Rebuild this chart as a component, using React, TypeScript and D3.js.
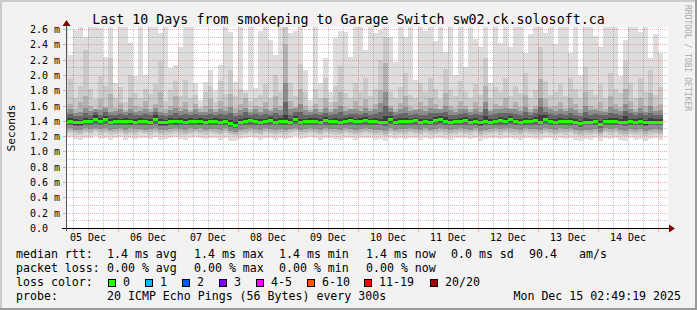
import React from "react";
import * as d3 from "d3";

// ---------- text ----------
const TITLE = "Last 10 Days from smokeping to Garage Switch sw02.ck.solosoft.ca";
const Y_TITLE = "Seconds";
const WATERMARK = "RRDTOOL / TOBI OETIKER";

// ---------- time ----------
const viewStart = new Date(2025, 11, 5, 3, 12);
const viewEnd = new Date(2025, 11, 15, 4, 0);
const firstColumn = new Date(2025, 11, 5, 2, 0);
const columnHours = 2;
const dayLabels = ["05 Dec", "06 Dec", "07 Dec", "08 Dec", "09 Dec", "10 Dec", "11 Dec", "12 Dec", "13 Dec", "14 Dec"];

// ---------- y ticks (ms) ----------
const yTickValues = [0, 0.2, 0.4, 0.6, 0.8, 1.0, 1.2, 1.4, 1.6, 1.8, 2.0, 2.2, 2.4, 2.6];
const yMinorValues = [0.1, 0.3, 0.5, 0.7, 0.9, 1.1, 1.3, 1.5, 1.7, 1.9, 2.1, 2.3, 2.5];

// ---------- data: rtt in units of 0.01 ms, one value per 2h column ----------
// p1 / p20
const maxRtt = [300,226,259,300,250,300,300,261,224,300,
 189,300,300,242,198,300,200,300,300,255,
 300,209,213,236,300,300,189,167,191,206,
 180,213,300,256,191,300,180,300,183,258,
 300,246,226,300,300,255,258,300,206,167,
 300,189,222,178,248,257,256,223,300,300,
 232,300,255,259,300,250,217,300,250,300,
 193,300,258,300,244,300,230,300,200,300,
 210,300,247,236,300,189,300,242,300,237,
 300,300,228,253,300,300,255,300,240,300,
 300,228,300,200,300,300,251,236,300,300,
 300,198,245,300,300,256,300,222,254,229];
const minRtt = [117,119,116,115,118,117,120,116,118,115,
 117,119,115,117,116,118,117,116,119,115,
 116,118,119,116,115,117,119,117,116,118,
 117,115,118,114,114,116,117,119,117,115,
 118,117,115,117,116,118,120,116,117,119,
 117,115,118,117,116,115,118,117,115,117,
 118,117,115,116,114,118,116,117,116,118,
 117,115,118,116,117,118,116,115,117,118,
 117,116,118,114,116,117,118,116,118,117,
 116,115,118,117,116,115,118,117,115,117,
 116,118,115,114,116,115,117,114,118,116,
 118,115,114,117,115,116,114,116,117,115];
// p2 / p19
const upper2 = [178,195,170,186,232,182,168,198,186,222,
 170,184,164,200,176,170,182,175,188,218,
 166,180,192,172,194,170,174,158,178,186,
 165,192,175,206,172,182,176,166,170,174,
 188,170,200,178,262,190,172,214,178,158,
 182,170,196,164,186,212,176,170,190,178,
 196,172,182,220,250,178,170,184,202,174,
 170,190,178,196,182,168,208,180,172,192,
 178,170,188,174,222,170,184,178,196,172,
 186,176,202,170,180,236,192,174,178,188,
 172,196,182,170,210,180,174,188,170,202,
 182,176,218,190,170,196,178,206,174,184];
const lower2 = [123,124,122,121,124,123,125,122,124,122,
 123,124,121,123,122,124,123,122,124,121,
 122,123,124,122,121,123,124,123,122,124,
 123,121,124,121,120,122,123,124,123,121,
 124,123,121,123,122,124,125,122,123,124,
 123,121,124,123,122,121,124,123,121,123,
 124,123,121,122,120,124,122,123,122,124,
 123,121,124,122,123,124,122,121,123,124,
 123,122,124,120,122,123,124,122,124,123,
 122,121,124,123,122,121,124,123,121,123,
 122,124,121,120,122,121,123,120,124,122,
 124,121,120,123,121,122,120,122,123,121];
// p4 / p17
const upper3 = [158,162,155,165,172,160,156,168,158,175,
 157,163,154,170,160,158,166,156,162,178,
 155,160,172,158,165,154,162,156,160,168,
 155,166,158,175,157,162,170,155,160,158,
 164,156,172,160,240,166,158,182,160,154,
 162,156,170,155,164,178,158,156,166,160,
 168,157,162,180,215,160,155,163,172,158,
 156,165,160,170,162,155,176,160,157,166,
 160,156,165,158,185,156,162,160,170,157,
 165,158,174,156,160,195,168,158,160,164,
 157,170,162,155,178,160,157,165,155,172,
 162,158,182,166,155,170,160,176,158,162];
const lower3 = [126,127,125,124,127,126,128,125,127,125,
 126,127,124,126,125,127,126,125,127,124,
 125,126,127,125,124,126,127,126,125,127,
 126,124,127,124,123,125,126,127,126,124,
 127,126,124,126,125,127,128,125,126,127,
 126,124,127,126,125,124,127,126,124,126,
 127,126,124,125,123,127,125,126,125,127,
 126,124,127,125,126,127,125,124,126,127,
 126,125,127,123,125,126,127,125,127,126,
 125,124,127,126,125,124,127,126,124,126,
 125,127,124,123,125,124,126,123,127,125,
 127,124,123,126,124,125,123,125,126,124];
// p6 / p15
const upper4 = [152,155,150,151,157,153,155,154,157,151,
 153,155,151,156,152,153,156,152,157,151,
 150,154,157,153,155,151,155,152,152,156,
 151,155,153,158,150,154,157,152,155,152,
 155,153,157,154,190,155,157,162,154,151,
 155,152,157,151,155,160,153,155,156,153,
 157,153,155,163,178,157,152,155,158,153,
 154,155,153,157,156,155,160,154,152,155,
 156,152,155,151,165,153,155,156,157,155,
 155,153,158,152,156,170,158,155,153,155,
 153,157,154,150,160,154,154,153,152,158,
 155,153,162,156,152,157,152,160,153,154];
const lower4 = [129,130,128,128,130,129,131,129,130,128,
 129,130,128,130,129,129,128,129,130,128,
 128,129,130,129,128,130,129,130,128,129,
 129,128,130,127,126,128,129,130,129,128,
 130,129,128,129,128,129,130,128,129,130,
 129,128,130,129,129,128,130,129,128,129,
 130,129,128,128,127,130,128,129,129,130,
 129,128,130,128,129,130,129,128,129,130,
 129,128,130,127,128,129,130,129,130,130,
 129,128,130,129,129,128,130,129,128,130,
 129,130,128,127,128,128,129,126,130,129,
 130,128,127,129,128,129,127,128,129,128];
// p8 / p13
const upper5 = [147,149,146,146,150,148,152,148,151,147,
 148,149,147,150,147,148,149,147,151,147,
 146,148,150,148,149,147,149,147,147,149,
 147,149,148,150,146,148,151,148,149,147,
 149,148,150,148,165,148,151,152,148,147,
 149,147,150,147,149,151,148,149,149,148,
 150,148,149,152,160,151,147,149,150,148,
 149,148,148,150,150,150,152,148,148,149,
 150,147,149,147,155,148,149,150,150,150,
 149,148,151,148,150,158,152,149,148,149,
 148,150,148,146,152,148,149,147,148,150,
 149,148,153,150,147,150,147,150,148,148];
const lower5 = [134,135,133,133,135,134,136,134,136,134,
 135,135,134,135,134,135,134,134,136,133,
 133,135,134,135,134,135,134,135,134,135,
 135,134,135,132,131,134,135,135,134,134,
 135,135,134,135,134,134,136,134,135,135,
 134,134,135,135,135,134,135,135,134,135,
 135,135,134,134,133,136,134,135,134,135,
 135,134,135,134,135,136,135,134,134,135,
 135,134,135,133,134,134,135,135,135,136,
 134,134,135,134,135,134,136,135,134,135,
 134,135,134,132,134,134,134,131,135,134,
 135,134,133,134,134,135,133,134,134,134];
// p10 / p11
const upper6 = [143,144,142,141,144,143,147,144,146,142,
 144,143,144,143,143,144,143,142,147,142,
 141,144,143,144,142,144,143,144,142,143,
 144,142,143,141,139,143,144,144,143,142,
 143,145,142,144,148,142,146,143,143,144,
 144,142,145,143,144,143,144,145,143,144,
 145,143,144,143,146,146,142,144,144,143,
 144,143,143,143,145,146,145,142,143,144,
 145,142,144,141,146,142,143,145,144,146,
 143,142,144,143,145,147,147,143,142,144,
 143,144,142,140,144,142,143,140,143,144,
 144,142,146,143,142,144,141,144,142,142];
const lower6 = [136,137,135,135,137,137,140,137,140,136,
 137,137,137,136,136,137,137,136,140,135,
 135,137,136,137,136,137,137,136,136,137,
 137,136,137,134,132,136,137,138,137,136,
 137,138,136,137,137,136,139,136,137,137,
 137,136,138,137,137,136,137,138,137,137,
 138,137,137,136,136,139,136,137,137,137,
 138,136,137,136,138,139,137,136,137,137,
 138,136,137,135,137,136,137,138,137,139,
 137,136,137,137,138,136,140,137,136,137,
 137,137,136,134,136,136,137,133,137,137,
 137,136,136,137,136,137,135,136,136,136];
// median rtt
const medianRtt = [139,140,138,138,140,140,143,140,143,139,
 140,140,140,140,139,140,140,139,143,138,
 138,140,140,140,139,140,140,140,139,140,
 140,139,140,137,135,139,140,141,140,139,
 140,141,139,140,140,139,142,139,140,140,
 140,139,141,140,140,139,140,141,140,140,
 141,140,140,139,139,142,139,140,140,140,
 141,139,140,139,141,142,140,139,140,140,
 141,139,140,138,140,139,140,141,140,142,
 140,139,140,140,141,139,143,140,139,140,
 140,140,139,137,139,139,140,136,140,140,
 140,139,139,140,139,140,138,139,139,139];

// ---------- legend ----------
const statNames = ["avg", "max", "min", "now"];
const rttStats = ["1.4", "1.4", "1.4", "1.4"];
const lossStats = ["0.00", "0.00", "0.00", "0.00"];
const rttSd = "0.0";
const amPerSec = "90.4";
const lossLabels = ["0", "1", "2", "3", "4-5", "6-10", "11-19", "20/20"];
const lossColors = ["#26ff00", "#00b8ff", "#0059ff", "#7e00ff", "#ff00ff", "#ff5500", "#ff0000", "#a10000"];
const probeText = "20 ICMP Echo Pings (56 Bytes) every 300s";
const stampText = "Mon Dec 15 02:49:19 2025";

const FONT = "'DejaVu Sans Mono', monospace";

export default function App() {
  const W = 697, H = 310;
  const PL = 66, PR = 668, PT = 27, PB = 228;
  const x = d3.scaleTime().domain([viewStart, viewEnd]).range([PL, PR]);
  const y = d3.scaleLinear().domain([0, 2.626]).range([PB, PT]);
  const yv = (v: number) => y(v / 100);

  const cols = medianRtt.map((_, i) => {
    const t0 = d3.timeHour.offset(firstColumn, i * columnHours);
    const t1 = d3.timeHour.offset(firstColumn, (i + 1) * columnHours);
    const x0 = Math.max(PL, Math.round(x(t0)));
    const x1 = Math.min(PR, Math.round(x(t1)));
    return { i, x0, x1 };
  });

  const bands = [
    { lo: minRtt, hi: maxRtt, color: "#dddddd" },
    { lo: lower2, hi: upper2, color: "#cacaca" },
    { lo: lower3, hi: upper3, color: "#b2b2b2" },
    { lo: lower4, hi: upper4, color: "#8e8e8e" },
    { lo: lower5, hi: upper5, color: "#666666" },
    { lo: lower6, hi: upper6, color: "#3e3e3e" },
  ];

  const majorDays = d3.timeDay.range(d3.timeDay.ceil(viewStart), viewEnd);
  const minorHours = d3.timeHour.every(6)!.range(viewStart, viewEnd).filter((d) => d.getHours() !== 0);
  const labelDays = dayLabels.map((lab, k) => ({ lab, t: d3.timeHour.offset(d3.timeDay.offset(new Date(2025, 11, 5), k), 12) }));

  const minorCol = "rgba(100,100,100,0.38)";
  const majorCol = "rgba(255,0,0,0.32)";

  const swatchX = [108.5, 145.5, 182.5, 219.5, 256.5, 307.5, 364.5, 430.5];
  const statX = [107, 194, 279, 366];

  return (
    <svg width={W} height={H} style={{ position: "absolute", left: 0, top: 0, fontFamily: FONT }}>
      <rect x={0} y={0} width={W} height={H} fill="#f2f2f2" />
      <rect x={0} y={0} width={W} height={2} fill="#cbcbcb" />
      <rect x={0} y={0} width={2} height={H} fill="#cbcbcb" />
      <rect x={0} y={H - 2} width={W} height={2} fill="#9a9a9a" />
      <rect x={W - 2} y={0} width={2} height={H} fill="#9a9a9a" />

      <rect x={PL} y={PT} width={PR - PL} height={PB - PT} fill="#ffffff" />

      {/* smoke */}
      <g shapeRendering="crispEdges">
        {bands.map((b, bi) =>
          cols.map((c) => {
            const top = Math.max(PT, Math.round(yv(b.hi[c.i])));
            const bot = Math.round(yv(b.lo[c.i]));
            return <rect key={bi + "-" + c.i} x={c.x0} y={top} width={c.x1 - c.x0} height={Math.max(0, bot - top)} fill={b.color} />;
          })
        )}
      </g>

      {/* grid */}
      <g strokeDasharray="1,1" strokeWidth={1}>
        {yMinorValues.map((v) => (
          <line key={"hm" + v} x1={PL} x2={PR} y1={Math.round(y(v)) + 0.5} y2={Math.round(y(v)) + 0.5} stroke={minorCol} />
        ))}
        {minorHours.map((d) => (
          <line key={"vm" + +d} x1={Math.round(x(d)) + 0.5} x2={Math.round(x(d)) + 0.5} y1={PT} y2={PB} stroke={minorCol} />
        ))}
        {yTickValues.filter((v) => v > 0).map((v) => (
          <line key={"hM" + v} x1={PL} x2={PR} y1={Math.round(y(v)) + 0.5} y2={Math.round(y(v)) + 0.5} stroke={majorCol} />
        ))}
        {majorDays.map((d) => (
          <line key={"vM" + +d} x1={Math.round(x(d)) + 0.5} x2={Math.round(x(d)) + 0.5} y1={PT} y2={PB} stroke={majorCol} />
        ))}
      </g>

      {/* median, loss colour 0 */}
      <g shapeRendering="crispEdges">
        {cols.map((c) => {
          const ym = Math.round(yv(medianRtt[c.i]));
          return <rect key={"m" + c.i} x={c.x0} y={ym - 1} width={c.x1 - c.x0} height={3} fill={lossColors[0]} />;
        })}
      </g>

      {/* ticks */}
      <g shapeRendering="crispEdges">
        {minorHours.map((d) => (
          <line key={"tm" + +d} x1={Math.round(x(d)) + 0.5} x2={Math.round(x(d)) + 0.5} y1={PB + 1} y2={PB + 3} stroke={minorCol} />
        ))}
        {majorDays.map((d) => (
          <line key={"tM" + +d} x1={Math.round(x(d)) + 0.5} x2={Math.round(x(d)) + 0.5} y1={PB + 1} y2={PB + 4} stroke={majorCol} />
        ))}
        {yTickValues.filter((v) => v > 0).map((v) => (
          <line key={"ty" + v} x1={PL - 3} x2={PL} y1={Math.round(y(v)) + 0.5} y2={Math.round(y(v)) + 0.5} stroke={majorCol} />
        ))}
      </g>

      {/* axes */}
      <line x1={PL - 4} x2={PR + 2} y1={PB + 0.5} y2={PB + 0.5} stroke="#000" shapeRendering="crispEdges" />
      <line x1={PL + 0.5} x2={PL + 0.5} y1={PB + 3} y2={PT - 3} stroke="#555" shapeRendering="crispEdges" />
      <path d={`M${PR + 1},${PB - 3.5}L${PR + 7},${PB + 0.5}L${PR + 1},${PB + 4.5}Z`} fill="#7f0000" />
      <path d={`M${PL - 3.5},${PT - 1}L${PL + 0.5},${PT - 7}L${PL + 4.5},${PT - 1}Z`} fill="#7f0000" />

      {/* y labels */}
      <g fontSize={10} fill="#000">
        {yTickValues.map((v) => (
          <text key={"yl" + v} x={30} y={Math.round(y(v)) + 4}>
            {v === 0 ? "0.0" : v.toFixed(1) + " m"}
          </text>
        ))}
      </g>
      {/* x labels */}
      <g fontSize={10} fill="#000" textAnchor="middle">
        {labelDays.map((d) => (
          <text key={d.lab} x={x(d.t)} y={240.5}>{d.lab}</text>
        ))}
      </g>

      <text x={348.5} y={24} fontSize={13.3} textAnchor="middle" fill="#000">{TITLE}</text>
      <text transform="translate(15,128) rotate(-90)" fontSize={11.2} textAnchor="middle" fill="#000">{Y_TITLE}</text>
      <text transform="translate(685,5) rotate(90)" fontSize={8} fill="#aaaaaa">{WATERMARK}</text>

      {/* legend */}
      <g fontSize={11.6} fill="#000">
        <text x={16} y={258}>median rtt:</text>
        {rttStats.map((s, k) => (
          <text key={"r" + k} x={statX[k]} y={258}>{`${s} ms ${statNames[k]}`}</text>
        ))}
        <text x={451} y={258}>{`${rttSd} ms sd`}</text>
        <text x={529} y={258}>{amPerSec}</text>
        <text x={579} y={258}>am/s</text>

        <text x={16} y={272}>packet loss:</text>
        {lossStats.map((s, k) => (
          <text key={"l" + k} x={statX[k]} y={272}>{`${s} % ${statNames[k]}`}</text>
        ))}

        <text x={16} y={286}>loss color:</text>
        {lossLabels.map((lab, k) => (
          <g key={"lc" + k}>
            <rect x={swatchX[k]} y={279.5} width={7} height={7} fill={lossColors[k]} stroke="#000" strokeWidth={1} shapeRendering="crispEdges" />
            <text x={swatchX[k] + 14.5} y={286}>{lab}</text>
          </g>
        ))}

        <text x={16} y={300}>probe:</text>
        <text x={107} y={300}>{probeText}</text>
        <text x={681} y={300} textAnchor="end">{stampText}</text>
      </g>
    </svg>
  );
}
